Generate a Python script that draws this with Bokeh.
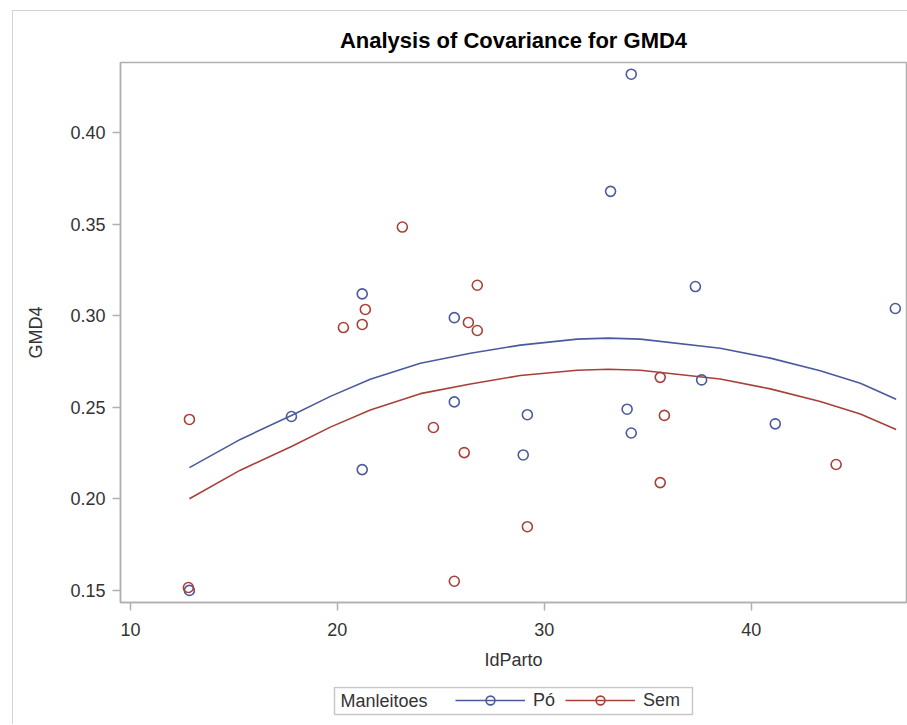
from bokeh.plotting import figure
from bokeh.models import (Range1d, FixedTicker, Legend, LegendItem, NumeralTickFormatter, Label)
from bokeh.layouts import column
from bokeh.embed import file_html
from bokeh.resources import INLINE

# ---- data ----
po_x = [34.2, 33.2, 37.3, 46.96, 21.2, 25.65, 17.78, 25.65, 21.2, 12.85, 29.18, 28.98, 34.0, 34.2, 37.6, 41.16]
po_y = [0.432, 0.368, 0.316, 0.304, 0.312, 0.299, 0.245, 0.253, 0.216, 0.150, 0.246, 0.224, 0.249, 0.236, 0.265, 0.241]

sem_x = [23.14, 26.76, 21.35, 21.2, 20.29, 26.33, 26.76, 12.85, 24.64, 26.13, 25.65, 12.8, 35.6, 35.8, 35.6, 29.18, 44.1]
sem_y = [0.3485, 0.3167, 0.3035, 0.2953, 0.2936, 0.2964, 0.292, 0.2434, 0.239, 0.2253, 0.155, 0.1516, 0.2664, 0.2456, 0.2089, 0.1848, 0.2188]

fit_x = [12.85, 15.31, 17.78, 19.66, 21.59, 24.01, 26.43, 28.84, 31.59, 33.09, 34.64, 38.50, 40.92, 43.33, 45.27, 47.0]
fit_po = [0.2171, 0.2325, 0.2456, 0.2560, 0.2654, 0.2741, 0.2796, 0.2840, 0.2873, 0.2878, 0.2873, 0.2823, 0.2769, 0.2700, 0.2632, 0.2544]
fit_sem = [0.2001, 0.2157, 0.2286, 0.2392, 0.2486, 0.2575, 0.2628, 0.2674, 0.2703, 0.2708, 0.2703, 0.2655, 0.2601, 0.2532, 0.2464, 0.2379]

x_ticks = [10, 20, 30, 40]
y_ticks = [0.15, 0.20, 0.25, 0.30, 0.35, 0.40]
groups = ["Pó", "Sem"]
legend_title = "Manleitoes"

BLUE = "#4a5a9c"
RED = "#a8403a"
GRAY = "#b0b0b0"
TXT = "#333333"
FONT = "Liberation Sans"

p = figure(width=894, height=675,
           x_range=Range1d(9.52, 47.5), y_range=Range1d(0.1434, 0.4384),
           output_backend="svg", toolbar_location=None,
           min_border_left=107, min_border_right=1, min_border_top=51, min_border_bottom=84,
           title="Analysis of Covariance for GMD4")

p.title.align = "center"
p.title.text_font = FONT
p.title.text_font_size = "22px"
p.title.text_font_style = "bold"
p.title.text_color = "#000000"
p.title.standoff = 20

p.grid.visible = False
p.outline_line_color = GRAY
p.outline_line_width = 1.5
p.background_fill_color = "white"
p.border_fill_color = "white"

for ax in (p.xaxis[0], p.yaxis[0]):
    ax.axis_line_color = GRAY
    ax.axis_line_width = 1.5
    ax.major_tick_line_color = GRAY
    ax.major_tick_line_width = 1.5
    ax.major_tick_out = 8
    ax.major_tick_in = 0
    ax.minor_tick_line_color = None
    ax.major_label_text_font = FONT
    ax.major_label_text_font_size = "18px"
    ax.major_label_text_color = TXT
    ax.axis_label_text_font = FONT
    ax.axis_label_text_font_size = "18px"
    ax.axis_label_text_font_style = "normal"
    ax.axis_label_text_color = TXT

p.xaxis.ticker = FixedTicker(ticks=x_ticks)
p.yaxis.ticker = FixedTicker(ticks=y_ticks)
p.yaxis.formatter = NumeralTickFormatter(format="0.00")
p.xaxis.axis_label = "IdParto"
p.yaxis.axis_label = "GMD4"
p.xaxis.major_label_standoff = 12
p.xaxis.axis_label_standoff = 11
p.yaxis.major_label_standoff = 7
p.yaxis.axis_label_standoff = 21

p.line(fit_x, fit_po, line_color=BLUE, line_width=1.6)
p.line(fit_x, fit_sem, line_color=RED, line_width=1.6)
p.scatter(po_x, po_y, marker="circle", size=10, fill_color=None, line_color=BLUE, line_width=1.6)
p.scatter(sem_x, sem_y, marker="circle", size=10, fill_color=None, line_color=RED, line_width=1.6)

# ---- legend strip below the chart (frame aligned with the chart, pixel units) ----
lg = figure(width=894, height=38, x_range=Range1d(0, 786), y_range=Range1d(0, 32),
            output_backend="svg", toolbar_location=None,
            x_axis_location=None, y_axis_location=None,
            min_border_left=107, min_border_right=1, min_border_top=0, min_border_bottom=6)
lg.grid.visible = False
lg.outline_line_color = None
lg.background_fill_color = "white"
lg.border_fill_color = "white"

# legend frame box
lg.quad(left=[214], right=[572], bottom=[4], top=[31], fill_color="white",
        line_color="#c8c8c8", line_width=1.5)

# off-screen proxies so the legend can draw its line+marker glyphs
d_po_l = lg.line([-100, -90], [-100, -100], line_color=BLUE, line_width=1.6)
d_po_s = lg.scatter([-100], [-100], marker="circle", size=10, fill_color=None, line_color=BLUE, line_width=1.6)
d_sem_l = lg.line([-100, -90], [-100, -100], line_color=RED, line_width=1.6)
d_sem_s = lg.scatter([-100], [-100], marker="circle", size=10, fill_color=None, line_color=RED, line_width=1.6)

lg.add_layout(Label(x=220, y=17.5, text=legend_title, text_font=FONT, text_font_size="18px",
                    text_color=TXT, text_baseline="middle", text_align="left"))

legend = Legend(items=[LegendItem(label=groups[0], renderers=[d_po_l, d_po_s]),
                       LegendItem(label=groups[1], renderers=[d_sem_l, d_sem_s])],
                orientation="horizontal", location=(335, 7))
legend.label_text_font = FONT
legend.label_text_font_size = "18px"
legend.label_text_color = TXT
legend.label_standoff = 8
legend.glyph_width = 70
legend.glyph_height = 22
legend.label_height = 18
legend.spacing = 10
legend.padding = 2
legend.margin = 0
legend.border_line_color = None
legend.background_fill_alpha = 0
lg.add_layout(legend, "center")

layout = column(p, lg, spacing=0, margin=(10, 0, 0, 12),
                styles={"border-left": "1px solid #d4d4d4", "border-top": "1px solid #d4d4d4"})

open("out.html", "w").write(file_html(layout, INLINE))
